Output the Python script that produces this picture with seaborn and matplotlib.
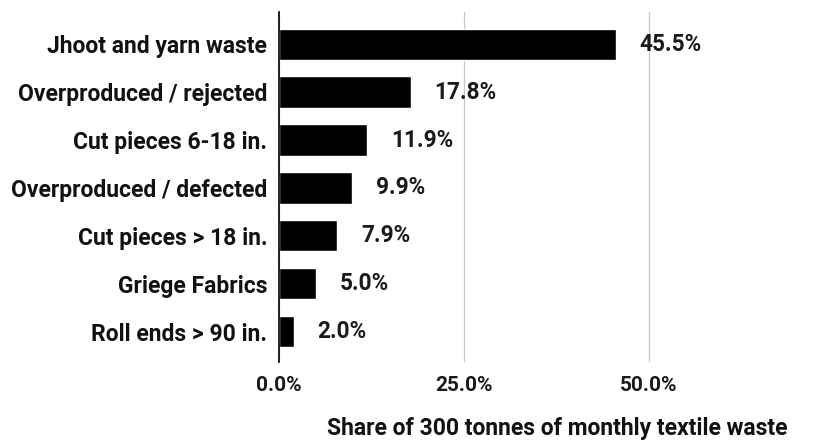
import matplotlib
matplotlib.use("Agg")
import matplotlib.pyplot as plt
import seaborn as sns
import pandas as pd
from matplotlib.ticker import FuncFormatter

# Monthly textile waste breakdown
categories = [
    "Jhoot and yarn waste",
    "Overproduced / rejected",
    "Cut pieces 6-18 in.",
    "Overproduced / defected",
    "Cut pieces > 18 in.",
    "Griege Fabrics",
    "Roll ends > 90 in.",
]
shares = [45.5, 17.8, 11.9, 9.9, 7.9, 5.0, 2.0]
x_ticks = [0, 25, 50]

df = pd.DataFrame({"category": categories, "share": shares})

sns.set_theme(style="white")
plt.rcParams["font.family"] = ["Roboto", "DejaVu Sans"]
plt.rcParams["font.weight"] = "bold"

fig = plt.figure(figsize=(8.25, 4.42), dpi=100)
W, H = 825, 442
ax = fig.add_axes([279 / W, (H - 362) / H, (800 - 279) / W, 350 / H])

sns.barplot(data=df, x="share", y="category", color="black", width=0.65,
            saturation=1, ax=ax, zorder=3)

ax.set_xlim(0, 70.4)
ax.set_ylim(6.63, -0.67)
ax.set_xticks(x_ticks)
ax.xaxis.set_major_formatter(FuncFormatter(lambda v, _: f"{v:.1f}%"))
ax.grid(axis="x", color="#c8c8c8", linewidth=0.9, zorder=0)
ax.grid(axis="y", visible=False)

for s in ["top", "right", "bottom"]:
    ax.spines[s].set_visible(False)
ax.spines["left"].set_color("black")
ax.spines["left"].set_linewidth(1.2)
ax.spines["left"].set_zorder(4)

ax.tick_params(axis="x", length=0, pad=10, labelsize=15, labelcolor="#1a1a1a")
ax.tick_params(axis="y", length=0, pad=8.5, labelsize=16.5, labelcolor="#111111")
for lab in ax.get_xticklabels() + ax.get_yticklabels():
    lab.set_fontweight("bold")

for i, v in enumerate(shares):
    ax.text(v + 3.2, i, f"{v:.1f}%", va="center", ha="left",
            fontsize=16.3, fontweight="bold", color="#1a1a1a")

ax.set_ylabel("")
ax.set_xlabel("Share of 300 tonnes of monthly textile waste",
              fontsize=16.5, fontweight="bold", color="#111111")
ax.xaxis.set_label_coords((557 - 279) / (800 - 279), -(429 - 362) / 350)
ax.xaxis.label.set_va("center")

fig.savefig("out.png", dpi=100, facecolor="white")
